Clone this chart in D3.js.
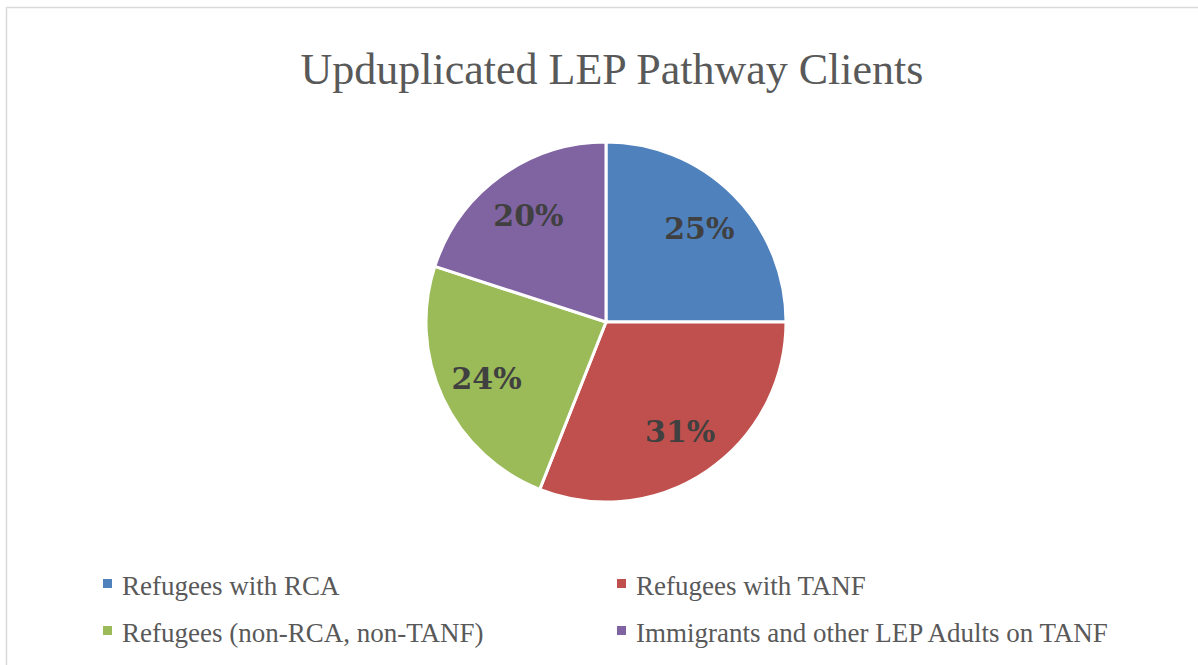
<!DOCTYPE html>
<meta charset="utf-8">
<style>
body { margin: 0; background: #fff; }
.title { font: 44px "Liberation Serif", serif; fill: #595959; }
.label { font: bold 30px "DejaVu Serif", serif; fill: #404040; }
.legend text { font: 27px "Liberation Serif", serif; fill: #595959; }
.slice { stroke: #fff; stroke-width: 3px; }
</style>
<body>
<script src="https://cdn.jsdelivr.net/npm/d3@7/dist/d3.min.js"></script>
<script>

var categories = ["Refugees with RCA", "Refugees with TANF", "Refugees (non-RCA, non-TANF)", "Immigrants and other LEP Adults on TANF"];
var values = [25, 31, 24, 20];
var colors = ["#4F81BD", "#C0504D", "#9BBB59", "#8064A2"];
var title = "Upduplicated LEP Pathway Clients";

var width = 1198,
    height = 665;

var svg = d3.select("body").append("svg")
    .attr("width", width)
    .attr("height", height);

// chart frame (only top and left edges are visible in the crop)
svg.append("rect")
    .attr("x", 6.5).attr("y", 7.5)
    .attr("width", 1200).attr("height", 700)
    .attr("fill", "none")
    .attr("stroke", "#d9d9d9")
    .attr("stroke-width", 1.5);

svg.append("text")
    .attr("class", "title")
    .attr("x", 612)
    .attr("y", 84)
    .attr("text-anchor", "middle")
    .text(title);

var data = categories.map(function(c, i) { return {name: c, value: values[i], color: colors[i]}; });

var pie = d3.pie().sort(null).value(function(d) { return d.value; });
var r = 180;
var arc = d3.arc().innerRadius(0).outerRadius(r);
var labelArc = d3.arc().innerRadius(132).outerRadius(132);

var g = svg.append("g").attr("transform", "translate(606,322)");
var arcs = pie(data);

g.selectAll("path")
    .data(arcs)
  .enter().append("path")
    .attr("class", "slice")
    .attr("d", arc)
    .attr("fill", function(d) { return d.data.color; });

g.selectAll("text")
    .data(arcs)
  .enter().append("text")
    .attr("class", "label")
    .attr("transform", function(d) { return "translate(" + labelArc.centroid(d) + ")"; })
    .attr("text-anchor", "middle")
    .attr("dy", "0.36em")
    .text(function(d) {
      var total = d3.sum(values);
      return Math.round(d.data.value / total * 100) + "%";
    });

// legend: 2 columns, 2 rows
var legend = svg.append("g").attr("class", "legend");
var item = legend.selectAll("g")
    .data(data)
  .enter().append("g")
    .attr("transform", function(d, i) {
      var col = i % 2, row = Math.floor(i / 2);
      return "translate(" + (103 + col * 514) + "," + (595 + row * 47) + ")";
    });

item.append("rect")
    .attr("x", 0).attr("y", -16)
    .attr("width", 9).attr("height", 9)
    .attr("fill", function(d) { return d.color; });

item.append("text")
    .attr("x", 19)
    .attr("y", 0)
    .text(function(d) { return d.name; });

</script>
</body>
</html>
